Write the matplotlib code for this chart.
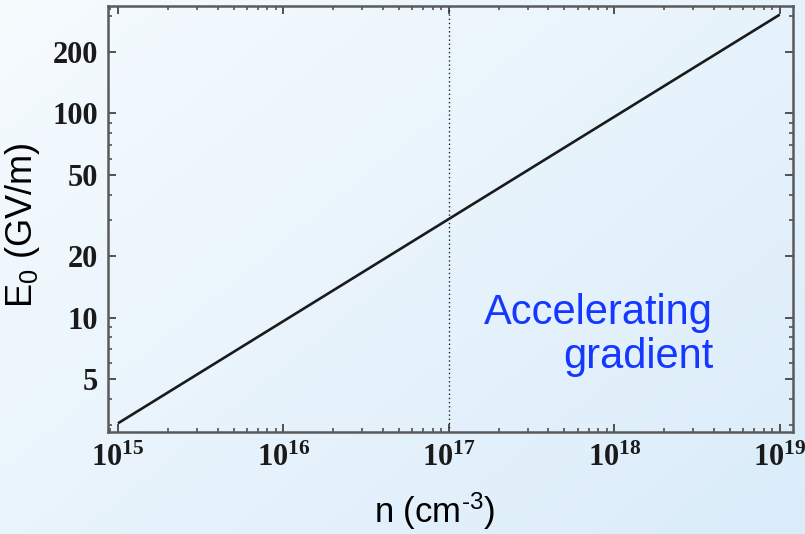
import numpy as np
import matplotlib
matplotlib.use("Agg")
import matplotlib.pyplot as plt
from matplotlib.ticker import FixedLocator, NullFormatter, FixedFormatter

plt.rcParams['mathtext.fontset'] = 'custom'
plt.rcParams['mathtext.rm'] = 'Liberation Sans'
plt.rcParams['mathtext.it'] = 'Liberation Sans:italic'
plt.rcParams['mathtext.bf'] = 'Liberation Serif:bold'
plt.rcParams['font.family'] = ['Liberation Sans', 'DejaVu Sans']

# data
density = [1e15, 1e19]           # n (cm^-3)
gradient = [3.04, 304.0]         # E0 (GV/m)
marker_density = 1e17
x_major = [1e15, 1e16, 1e17, 1e18, 1e19]
x_labels = [r'$\mathbf{10^{15}}$', r'$\mathbf{10^{16}}$', r'$\mathbf{10^{17}}$',
            r'$\mathbf{10^{18}}$', r'$\mathbf{10^{19}}$']
y_major = [5.0, 10.0, 20.0, 50.0, 100.0, 200.0]
y_labels = ['5', '10', '20', '50', '100', '200']
y_minor = [3.0, 4.0, 6.0, 7.0, 8.0, 9.0, 30.0, 40.0, 60.0, 70.0, 80.0, 90.0, 300.0]

fig = plt.figure(figsize=(8.05, 5.34), dpi=100)

# gradient background
bg = fig.add_axes([0, 0, 1, 1], zorder=-10)
h, w = 200, 300
yy, xx = np.mgrid[0:1:h*1j, 0:1:w*1j]
t = (0.55 * xx + 0.45 * yy)
c0 = np.array([246, 251, 254]) / 255.0
c1 = np.array([218, 236, 250]) / 255.0
img = c0[None, None, :] * (1 - t[..., None]) + c1[None, None, :] * t[..., None]
bg.imshow(img, aspect='auto', extent=[0, 1, 0, 1], origin='upper')
bg.axis('off')

ax = fig.add_axes([108/805, 1 - 432/534, (793 - 108)/805, (432 - 6)/534])
ax.patch.set_alpha(0)
ax.set_xscale('log')
ax.set_yscale('log')

ax.plot(density, gradient, color='#1a1a1a', lw=1.9, solid_capstyle='butt')
ax.axvline(marker_density, color='#222222', lw=1.0, ls=(0, (1, 2)))

ax.set_xlim(10**14.94, 10**19.08)
ax.set_ylim(10**0.4405, 10**2.525)

ax.xaxis.set_major_locator(FixedLocator(x_major))
ax.xaxis.set_major_formatter(FixedFormatter(x_labels))
xminor = [float(m) * 10.0**e for e in range(14, 20) for m in range(2, 10)]
ax.xaxis.set_minor_locator(FixedLocator(xminor))
ax.xaxis.set_minor_formatter(NullFormatter())

ax.yaxis.set_major_locator(FixedLocator(y_major))
ax.yaxis.set_major_formatter(FixedFormatter(y_labels))
ax.yaxis.set_minor_locator(FixedLocator(y_minor))
ax.yaxis.set_minor_formatter(NullFormatter())

for s in ax.spines.values():
    s.set_color('#5a5a5a')
    s.set_linewidth(1.8)

ax.tick_params(which='both', direction='in', top=True, right=True, color='#444444')
ax.tick_params(which='major', length=6, width=1.3)
ax.tick_params(which='minor', length=3, width=1.1)
ax.tick_params(axis='x', which='major', pad=8)
ax.tick_params(axis='y', which='major', pad=7)
for lab in ax.get_yticklabels():
    lab.set_fontfamily('Liberation Serif')
    lab.set_fontweight('bold')
    lab.set_fontsize(22)
    lab.set_color('#1a1a1a')
for lab in ax.get_xticklabels():
    lab.set_fontsize(22)
    lab.set_color('#1a1a1a')

fig.text(22/805, 1 - 225/534, r'E$_0$ (GV/m)', rotation=90, ha='center', va='center',
         fontsize=26, color='black')
fig.text(435/805, 1 - 511/534, r'n (cm$^{\text{-}3}$)', ha='center', va='center',
         fontsize=25, color='black')
fig.text(713/805, 1 - 335/534, 'Accelerating\ngradient', ha='right', va='center',
         multialignment='right', fontsize=30, color='#1438ff', linespacing=1.1)

fig.savefig('out.png', dpi=100)
